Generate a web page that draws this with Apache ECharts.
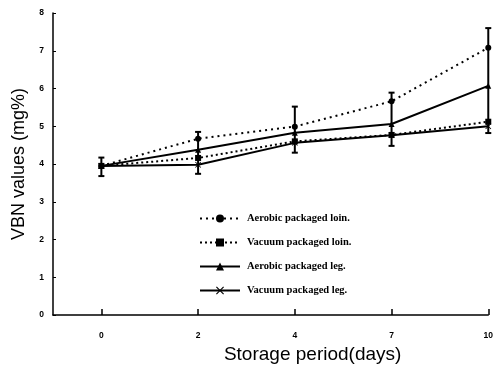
<!DOCTYPE html>
<html>
<head>
<meta charset="utf-8">
<script src="https://cdn.jsdelivr.net/npm/echarts@6/dist/echarts.min.js"></script>
<style>
  html, body { margin: 0; padding: 0; background: #fff; }
  #chart { width: 496px; height: 370px; }
</style>
</head>
<body>
<div id="chart"></div>
<script>
// storage days, plotted at equal spacing
const days = ['0', '2', '4', '7', '10'];
const aerobicLoin = [3.95, 4.67, 4.99, 5.66, 7.08];
const vacuumLoin = [3.95, 4.16, 4.6, 4.77, 5.12];
const aerobicLeg = [3.95, 4.38, 4.83, 5.06, 6.07];
const vacuumLeg = [3.95, 3.98, 4.56, 4.76, 5.0];
// error bar span at each day (all series together)
const errLow = [3.68, 3.74, 4.3, 4.48, 4.82];
const errHigh = [4.17, 4.85, 5.52, 5.89, 7.6];
const yTicks = [0, 1, 2, 3, 4, 5, 6, 7, 8];

const xSymbol = 'path://M0,1L1,0L5,4L9,0L10,1L6,5L10,9L9,10L5,6L1,10L0,9L4,5Z';

const chart = echarts.init(document.getElementById('chart'));

function pts(arr) {
    return arr.map((v, i) => [i, v]);
}

const option = {
    backgroundColor: '#fff',
    animation: false,
    grid: { left: 53, right: 5, top: 13, bottom: 55 },
    legend: {
        orient: 'vertical',
        left: 194,
        top: 208,
        itemWidth: 40,
        itemHeight: 10,
        itemGap: 13,
        textStyle: {
            fontFamily: 'Liberation Serif',
            fontWeight: 'bold',
            fontSize: 10.5,
            color: '#000',
            padding: [0, 0, 0, 2]
        },
        data: ['Aerobic packaged loin.', 'Vacuum packaged loin.', 'Aerobic packaged leg.', 'Vacuum packaged leg.']
    },
    xAxis: {
        type: 'value',
        min: -0.5,
        max: 4,
        name: 'Storage period(days)',
        nameLocation: 'middle',
        nameGap: 29,
        nameTextStyle: {
            fontFamily: 'Liberation Sans',
            fontSize: 19,
            color: '#000',
            padding: [0, 0, 0, 84]
        },
        splitLine: { show: false },
        axisLine: { onZero: false, lineStyle: { color: '#000', width: 1.5 } },
        axisTick: {
            inside: true,
            length: 6,
            customValues: [0, 1, 2, 3, 4],
            lineStyle: { color: '#000', width: 1.5 }
        },
        axisLabel: {
            customValues: [0, 1, 2, 3, 4],
            formatter: v => days[v],
            margin: 16,
            fontFamily: 'Liberation Sans',
            fontWeight: 'bold',
            fontSize: 8.5,
            color: '#000'
        }
    },
    yAxis: {
        type: 'value',
        min: 0,
        max: 8,
        interval: 1,
        name: 'VBN values (mg%)',
        nameLocation: 'middle',
        nameGap: 21,
        nameTextStyle: {
            fontFamily: 'Liberation Sans',
            fontSize: 18,
            color: '#000'
        },
        splitLine: { show: false },
        axisLine: { show: true, onZero: false, lineStyle: { color: '#000', width: 1.5 } },
        axisTick: { inside: true, length: 3, lineStyle: { color: '#000' } },
        axisLabel: {
            formatter: v => yTicks.includes(v) ? String(v) : '',
            margin: 9,
            fontFamily: 'Liberation Sans',
            fontWeight: 'bold',
            fontSize: 8.5,
            color: '#000'
        }
    },
    series: [
        {
            name: 'Aerobic packaged loin.',
            type: 'line',
            data: pts(aerobicLoin),
            symbol: 'circle',
            symbolSize: 6,
            itemStyle: { color: '#000' },
            lineStyle: { color: '#000', width: 2, type: [2, 4] }
        },
        {
            name: 'Vacuum packaged loin.',
            type: 'line',
            data: pts(vacuumLoin),
            symbol: 'rect',
            symbolSize: 6,
            itemStyle: { color: '#000' },
            lineStyle: { color: '#000', width: 2, type: [2, 3] }
        },
        {
            name: 'Aerobic packaged leg.',
            type: 'line',
            data: pts(aerobicLeg),
            symbol: 'triangle',
            symbolSize: 6,
            itemStyle: { color: '#000' },
            lineStyle: { color: '#000', width: 2 }
        },
        {
            name: 'Vacuum packaged leg.',
            type: 'line',
            data: pts(vacuumLeg),
            symbol: xSymbol,
            symbolSize: 6,
            itemStyle: { color: '#000' },
            lineStyle: { color: '#000', width: 2 }
        },
        {
            name: 'error',
            type: 'custom',
            data: errLow.map((lo, i) => [i, lo, errHigh[i]]),
            renderItem: function (params, api) {
                const lo = api.coord([api.value(0), api.value(1)]);
                const hi = api.coord([api.value(0), api.value(2)]);
                const w = 3;
                const st = { stroke: '#000', lineWidth: 2 };
                return {
                    type: 'group',
                    children: [
                        { type: 'line', shape: { x1: hi[0], y1: hi[1], x2: lo[0], y2: lo[1] }, style: st },
                        { type: 'line', shape: { x1: hi[0] - w, y1: hi[1], x2: hi[0] + w, y2: hi[1] }, style: st },
                        { type: 'line', shape: { x1: lo[0] - w, y1: lo[1], x2: lo[0] + w, y2: lo[1] }, style: st }
                    ]
                };
            },
            z: 3
        }
    ]
};

chart.setOption(option);
</script>
</body>
</html>
